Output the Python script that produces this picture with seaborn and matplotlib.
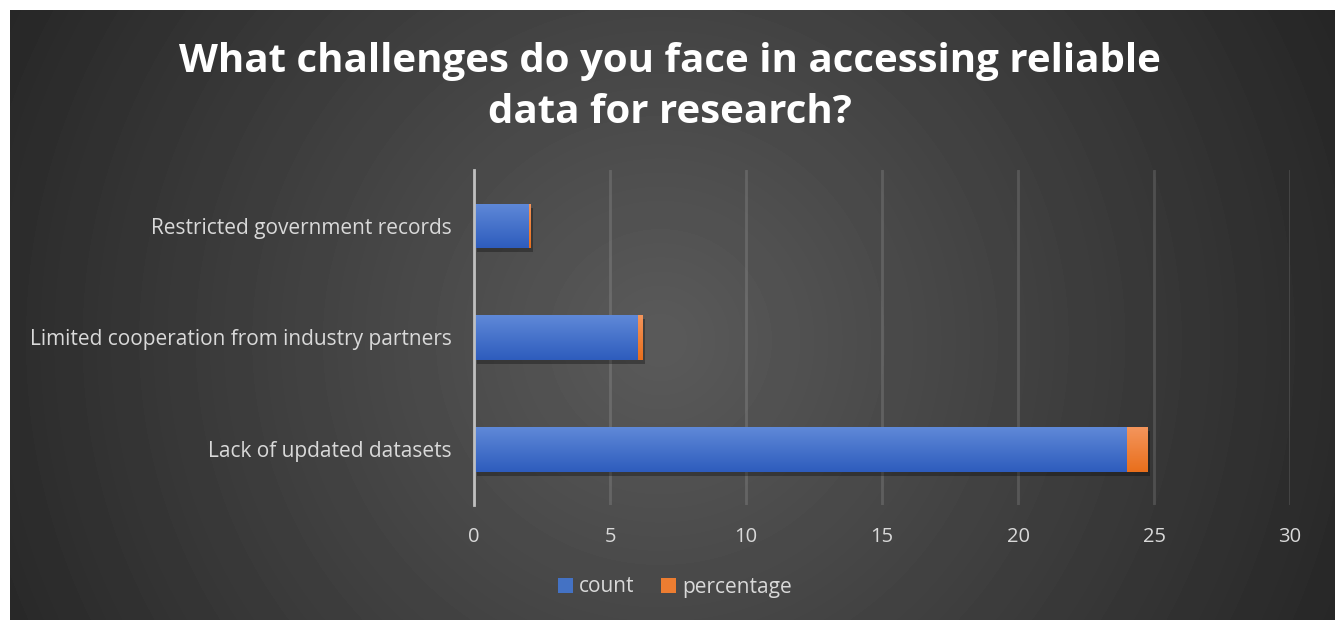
import numpy as np
import pandas as pd
import seaborn as sns
import matplotlib.pyplot as plt
import matplotlib.patheffects as pe
from matplotlib.colors import LinearSegmentedColormap
from matplotlib.patches import Patch

challenges = ["Restricted government records",
              "Limited cooperation from industry partners",
              "Lack of updated datasets"]
count = [2, 6, 24]
percentage = [0.0625, 0.1875, 0.75]
x_ticks = [0, 5, 10, 15, 20, 25, 30]

df = pd.DataFrame({"challenge": challenges, "count": count, "percentage": percentage})
df["total"] = df["count"] + df["percentage"]

sns.set_theme(style="white")
plt.rcParams["font.family"] = ["Open Sans", "DejaVu Sans"]

W, H = 1335, 620
fig = plt.figure(figsize=(W / 100, H / 100), dpi=100)
fig.patch.set_facecolor("white")

# radial dark background
bg = fig.add_axes([10 / W, 0, 1 - 10 / W, 1 - 10 / H], zorder=-5)
yy, xx = np.mgrid[0:610, 0:1325]
d = np.hypot(xx - 650, yy - 330) / 760
shade = np.clip(0.355 - 0.21 * d, 0.125, 0.36)
bg.imshow(shade, cmap="gray", vmin=0, vmax=1, aspect="auto", interpolation="bilinear")
bg.axis("off")

ax = fig.add_axes([474 / W, 1 - 505 / H, (1290 - 474) / W, (505 - 170) / H])
ax.set_facecolor("none")

shadow = [pe.withSimplePatchShadow(offset=(2, -3), shadow_rgbFace="black", alpha=0.3)]
sns.barplot(data=df, y="challenge", x="total", color="#ED7D31", width=0.4,
            saturation=1, ax=ax, zorder=2, edgecolor="none", linewidth=0)
sns.barplot(data=df, y="challenge", x="count", color="#4472C4", width=0.4,
            saturation=1, ax=ax, zorder=3, edgecolor="none", linewidth=0)

orange_cmap = LinearSegmentedColormap.from_list("o", ["#f4955c", "#e96f1c"])
blue_cmap = LinearSegmentedColormap.from_list("b", ["#5f89d8", "#2e5cbd"])
for i, (cont, cmap, z) in enumerate([(ax.containers[0], orange_cmap, 2.5),
                                     (ax.containers[1], blue_cmap, 3.5)]):
    for p in cont:
        x0, y0, w, h = p.get_x(), p.get_y(), p.get_width(), p.get_height()
        if i == 0:
            p.set_path_effects(shadow)
        im = ax.imshow(np.linspace(0, 1, 64).reshape(-1, 1), cmap=cmap, aspect="auto",
                       extent=(x0, x0 + w, y0 + h, y0), origin="upper", zorder=z)
        im.set_clip_path(p)

ax.set_xlim(0, 30)
ax.set_ylim(2.5, -0.5)
ax.set_xticks(x_ticks)
ax.set_xlabel("")
ax.set_ylabel("")
ax.grid(axis="x", color="white", alpha=0.13, lw=2)
ax.set_axisbelow(True)
for s in ["top", "right", "bottom"]:
    ax.spines[s].set_visible(False)
ax.spines["left"].set_color("#bfbfbf")
ax.spines["left"].set_linewidth(2)
ax.spines["left"].set_zorder(5)
ax.tick_params(axis="x", length=0, pad=16, labelsize=14.5, labelcolor="#d9d9d9")
ax.tick_params(axis="y", length=0, pad=16, labelsize=15, labelcolor="#d9d9d9")

fig.text(670 / W, 1 - 87 / H, "What challenges do you face in accessing reliable\ndata for research?",
         ha="center", va="center", color="white", fontsize=29, fontweight="bold",
         linespacing=1.38)

handles = [Patch(facecolor="#4472C4", edgecolor="none", label="count"),
           Patch(facecolor="#ED7D31", edgecolor="none", label="percentage")]
fig.legend(handles=handles, loc="center", bbox_to_anchor=(675 / W, 1 - 587 / H), ncol=2,
           frameon=False, handlelength=0.7, handleheight=0.7, handletextpad=0.3,
           columnspacing=1.3, fontsize=15, labelcolor="#d9d9d9")

fig.savefig("out.png", dpi=100)
